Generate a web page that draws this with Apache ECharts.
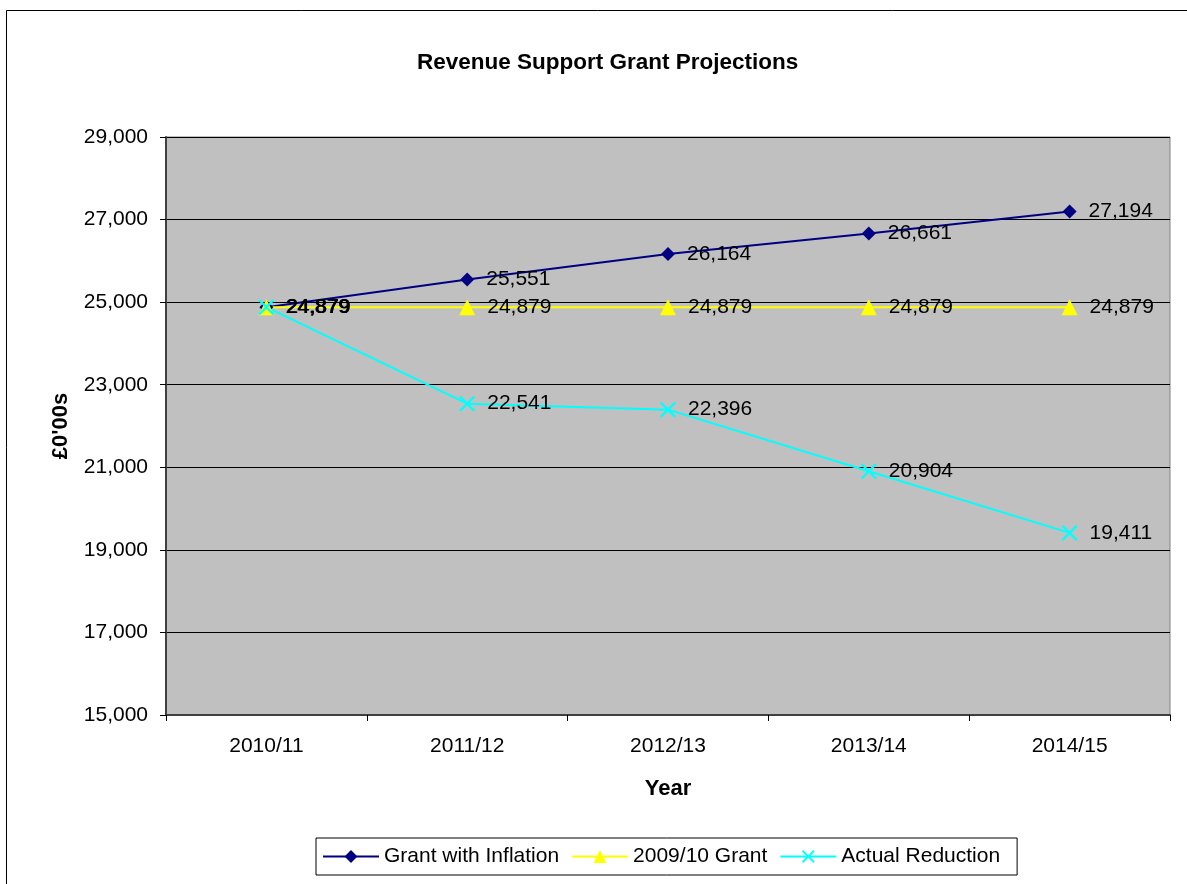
<!DOCTYPE html>
<html>
<head>
<meta charset="utf-8">
<script src="https://cdn.jsdelivr.net/npm/echarts@6/dist/echarts.min.js"></script>
<style>
  html, body { margin: 0; padding: 0; background: #fff; }
  #chart { width: 1187px; height: 884px; }
</style>
</head>
<body>
<div id="chart"></div>
<script>
// Revenue Support Grant projections (£0'00s)
const years = ['2010/11', '2011/12', '2012/13', '2013/14', '2014/15'];
const grantWithInflation = [24879, 25551, 26164, 26661, 27194];
const grant200910 = [24879, 24879, 24879, 24879, 24879];
const actualReduction = [24879, 22541, 22396, 20904, 19411];
const yTicks = { min: 15000, max: 29000, step: 2000 };

const FONT = '"Liberation Sans", Arial, sans-serif';
const crossPath = 'path://M0,1L1,0L5,4L9,0L10,1L6,5L10,9L9,10L5,6L1,10L0,9L4,5Z';

const labelStyle = {
  show: true,
  position: 'right',
  distance: 12,
  color: '#000',
  fontSize: 21,
  fontFamily: FONT,
  formatter: p => p.value.toLocaleString('en-GB')
};

function lineSeries(name, data, color, symbol, size) {
  return {
    name: name,
    type: 'line',
    data: data,
    symbol: symbol,
    symbolSize: size,
    showAllSymbol: true,
    itemStyle: { color: color },
    lineStyle: { color: color, width: 2 },
    label: labelStyle,
    emphasis: { disabled: true },
    animation: false
  };
}

const chart = echarts.init(document.getElementById('chart'));
chart.setOption({
  backgroundColor: '#fff',
  animation: false,
  graphic: [{
    type: 'rect',
    shape: { x: 6.5, y: 10.5, width: 1200, height: 900 },
    style: { fill: 'none', stroke: '#000', lineWidth: 1 },
    silent: true,
    z: -10
  }],
  title: {
    text: 'Revenue Support Grant Projections',
    left: 412,
    top: 46,
    textStyle: { fontFamily: FONT, fontSize: 22.5, fontWeight: 'bold', color: '#000' }
  },
  grid: {
    left: 166, top: 137, right: 17, bottom: 169,
    show: true,
    backgroundColor: '#C0C0C0',
    borderColor: '#808080',
    borderWidth: 1
  },
  legend: {
    bottom: 9,
    left: 316,
    itemWidth: 56,
    itemHeight: 16,
    itemGap: 12,
    padding: [8, 17, 8, 6],
    borderColor: '#000',
    borderWidth: 1,
    selectedMode: false,
    textStyle: { fontFamily: FONT, fontSize: 21, color: '#000' },
    data: ['Grant with Inflation', '2009/10 Grant', 'Actual Reduction']
  },
  xAxis: {
    type: 'category',
    data: years,
    boundaryGap: true,
    name: 'Year',
    nameLocation: 'middle',
    nameGap: 63,
    nameTextStyle: { fontFamily: FONT, fontSize: 22, fontWeight: 'bold', color: '#000' },
    axisLine: { lineStyle: { color: '#404040', width: 2 } },
    axisTick: { show: true, inside: false, length: 6, lineStyle: { color: '#000' } },
    axisLabel: { fontFamily: FONT, fontSize: 21, color: '#000', margin: 21 },
    splitLine: { show: false }
  },
  yAxis: {
    type: 'value',
    min: yTicks.min,
    max: yTicks.max,
    interval: yTicks.step,
    name: "£0'00s",
    nameLocation: 'middle',
    nameRotate: 90,
    nameGap: 94,
    nameTextStyle: { fontFamily: FONT, fontSize: 22, fontWeight: 'bold', color: '#000' },
    axisLine: { show: true, lineStyle: { color: '#404040', width: 2 } },
    axisTick: { show: true, inside: false, length: 6, lineStyle: { color: '#000' } },
    axisLabel: {
      fontFamily: FONT, fontSize: 21, color: '#000', margin: 18,
      formatter: v => v.toLocaleString('en-GB')
    },
    splitLine: { show: true, lineStyle: { color: '#000', width: 1 } }
  },
  series: [
    lineSeries('Grant with Inflation', grantWithInflation, '#000080', 'diamond', 14),
    lineSeries('2009/10 Grant', grant200910, '#FFFF00', 'triangle', 16),
    lineSeries('Actual Reduction', actualReduction, '#00FFFF', crossPath, 16)
  ]
});
</script>
</body>
</html>
